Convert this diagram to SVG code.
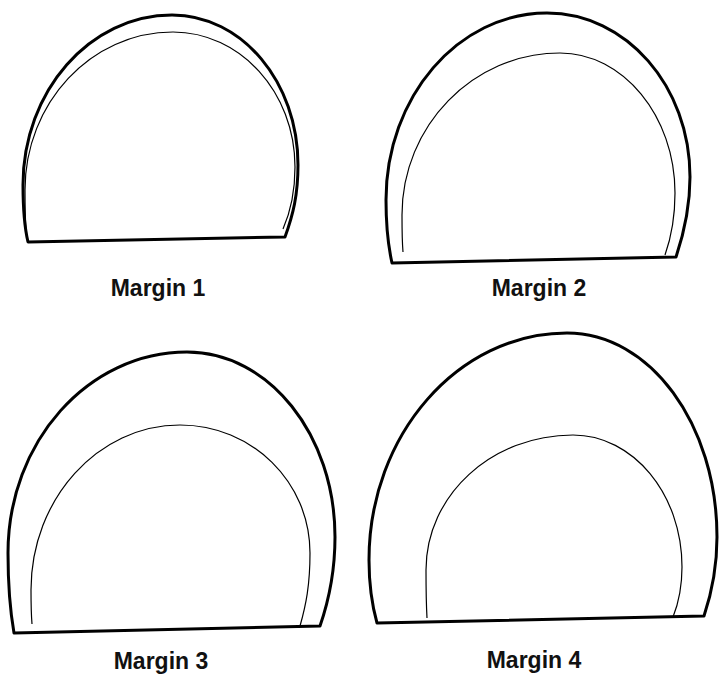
<svg xmlns="http://www.w3.org/2000/svg" width="719" height="677" viewBox="0 0 719 677">
  <style>
    .outer { fill: none; stroke: #000; stroke-width: 3; stroke-linejoin: round; }
    .inner { fill: none; stroke: #000; stroke-width: 1.2; }
    .label { font-family: "Liberation Sans", Arial, sans-serif; font-weight: bold; font-size: 23px; fill: #111; text-anchor: middle; }
  </style>
  <rect width="719" height="677" fill="#fff"/>
  <g id="margin1">
    <path class="outer" d="M28,242 C24,225 23,205 23,185 C23,91 90,15 172,15 C242,15 298,82 298,165 C298,195 293,215 285,237 Z"/>
    <path class="inner" d="M26,230 C25,215 25,202 25,190 C25,103 91,32 173,32 C240,32 295,92 295,167 C295,195 290,213 283,229"/>
    <text class="label" x="158" y="296">Margin 1</text>
  </g>
  <g id="margin2">
    <path class="outer" d="M392,263 C388,245 386,225 386,200 C386,97 458,13 547,13 C626,13 690,86 690,177 C690,205 685,230 676,257 Z"/>
    <path class="inner" d="M403,252 C402,240 402,228 402,215 C402,126 473,53 560,53 C623,53 675,116 675,193 C675,220 671,238 665,255"/>
    <text class="label" x="539" y="296">Margin 2</text>
  </g>
  <g id="margin3">
    <path class="outer" d="M14,633 C10,610 8,585 8,553 C8,442 88,352 187,352 C269,352 335,435 335,537 C335,570 329,600 320,626 Z"/>
    <path class="inner" d="M32,624 C31,612 31,600 31,590 C31,499 98,425 180,425 C252,425 310,482 310,553 C310,585 306,605 300,626"/>
    <text class="label" x="161" y="669">Margin 3</text>
  </g>
  <g id="margin4">
    <path class="outer" d="M377,623 C372,605 369,585 369,560 C369,435 458,333 567,333 C650,333 717,424 717,537 C717,565 712,592 704,616 Z"/>
    <path class="inner" d="M427,618 C426,600 426,585 426,570 C426,495 492,435 573,435 C633,435 682,494 682,567 C682,585 679,602 673,617"/>
    <text class="label" x="534" y="668">Margin 4</text>
  </g>
  <g id="connectors"></g>
</svg>
